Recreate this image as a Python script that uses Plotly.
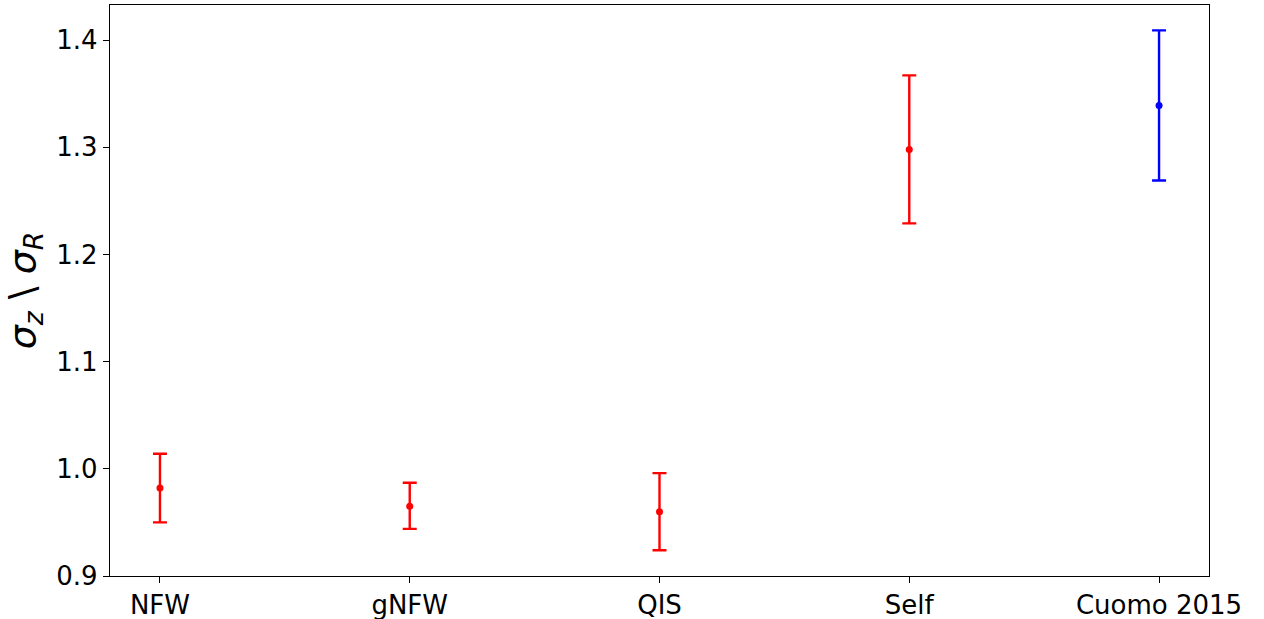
import plotly.graph_objects as go

# Velocity dispersion ratio for each halo model, with asymmetric errors
models = ["NFW", "gNFW", "QIS", "Self"]
ratio = [0.982, 0.965, 0.960, 1.298]
err_up = [0.032, 0.022, 0.036, 0.069]
err_down = [0.032, 0.021, 0.036, 0.069]

# Literature comparison value
ref_label = ["Cuomo 2015"]
ref_ratio = [1.339]
ref_err = [0.070]

categories = models + ref_label
y_ticks = [0.9, 1.0, 1.1, 1.2, 1.3, 1.4]

fig = go.Figure()

fig.add_trace(go.Scatter(
    x=models, y=ratio, mode="markers",
    marker=dict(color="red", size=7),
    error_y=dict(type="data", symmetric=False, array=err_up, arrayminus=err_down,
                 color="red", thickness=2.4, width=7),
    showlegend=False,
))

fig.add_trace(go.Scatter(
    x=ref_label, y=ref_ratio, mode="markers",
    marker=dict(color="blue", size=7),
    error_y=dict(type="data", array=ref_err, color="blue", thickness=2.4, width=7),
    showlegend=False,
))

axis_font = dict(family="DejaVu Sans", size=26, color="black")

fig.update_layout(
    width=1264, height=619,
    margin=dict(l=110, r=55, t=5, b=43),
    paper_bgcolor="white", plot_bgcolor="white",
    font=dict(family="DejaVu Sans", color="black"),
    xaxis=dict(
        type="category", categoryorder="array", categoryarray=categories,
        range=[-0.2, 4.2], automargin=False,
        showline=True, linecolor="black", linewidth=1.3, mirror=True,
        ticks="outside", ticklen=6, tickwidth=1.3, tickcolor="black",
        tickfont=axis_font, showgrid=False, zeroline=False,
    ),
    yaxis=dict(
        range=[0.9, 1.4327], tickvals=y_ticks, automargin=False,
        ticktext=[f"{v:.1f}" for v in y_ticks],
        showline=True, linecolor="black", linewidth=1.3, mirror=True,
        ticks="outside", ticklen=6, tickwidth=1.3, tickcolor="black",
        tickfont=axis_font, showgrid=False, zeroline=False,
        title=dict(
            text="<i>σ</i><sub><i>z</i></sub> \\ <i>σ</i><sub><i>R</i></sub>",
            font=dict(family="DejaVu Sans", size=38, color="black"),
            standoff=10,
        ),
    ),
)

fig.write_html("out.html")
